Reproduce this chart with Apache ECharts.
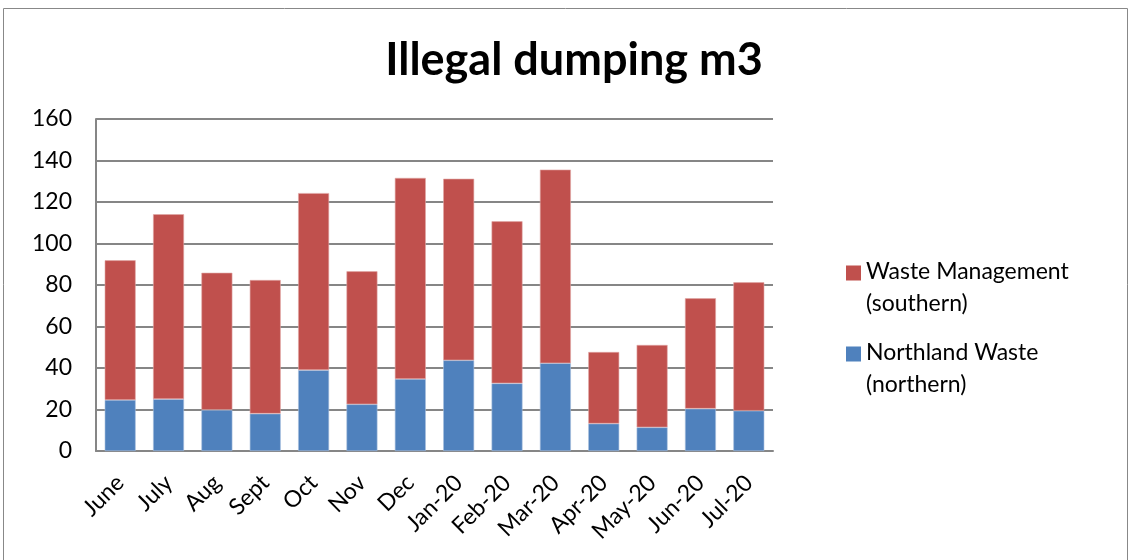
<!DOCTYPE html>
<html>
<head>
<meta charset="utf-8">
<script src="https://cdn.jsdelivr.net/npm/echarts@6/dist/echarts.min.js"></script>
<style>
  html, body { margin: 0; padding: 0; background: #fff; }
  #chart { width: 1129px; height: 560px; }
</style>
</head>
<body>
<div id="chart"></div>
<script>
var months = ['June', 'July', 'Aug', 'Sept', 'Oct', 'Nov', 'Dec', 'Jan-20', 'Feb-20', 'Mar-20', 'Apr-20', 'May-20', 'Jun-20', 'Jul-20'];
var northern = [24.6, 25, 19.8, 18, 39, 22.5, 34.7, 43.7, 32.6, 42.3, 13.2, 11.4, 20.4, 19.4];
var southern = [67.3, 89.1, 66.1, 64.4, 85.3, 64.1, 96.9, 87.5, 78.1, 93.3, 34.5, 39.7, 53.2, 61.9];
var seriesNames = ['Northland Waste\n(northern)', 'Waste Management\n(southern)'];
var colors = ['#4f81bd', '#c0504d'];

var font = 'Lato, "Open Sans", sans-serif';
var myChart = echarts.init(document.getElementById('chart'));

// square on top, invisible speck below, so the swatch sits beside the first text line
var legendIcon = 'path://M0,0h10v10h-10z M0,29.99h0.01v0.01h-0.01z';

var option = {
    animation: false,
    title: {
        text: 'Illegal dumping m3',
        left: 569,
        top: 33,
        textAlign: 'center',
        textStyle: {
            fontFamily: font,
            fontSize: 45,
            fontWeight: 'bold',
            color: '#000'
        }
    },
    graphic: [{
        type: 'rect',
        shape: { x: 3.5, y: 8.5, width: 1124, height: 600 },
        style: { fill: 'none', stroke: '#888', lineWidth: 1 },
        silent: true
    }],
    legend: {
        orient: 'vertical',
        left: 841,
        top: 251,
        itemWidth: 15,
        itemHeight: 45,
        itemGap: 17,
        icon: legendIcon,
        itemStyle: { borderWidth: 0 },
        data: [seriesNames[1], seriesNames[0]],
        textStyle: {
            fontFamily: font,
            fontSize: 23,
            lineHeight: 32,
            color: '#000'
        }
    },
    grid: {
        left: 96,
        right: 356,
        top: 119,
        bottom: 109
    },
    xAxis: {
        type: 'category',
        data: months,
        axisTick: { show: false },
        axisLine: { lineStyle: { color: '#868686', width: 2 } },
        axisLabel: {
            rotate: 45,
            interval: 0,
            margin: 28,
            fontFamily: font,
            fontSize: 23,
            color: '#000'
        }
    },
    yAxis: {
        type: 'value',
        min: 0,
        max: 160,
        interval: 20,
        axisLine: { show: true, lineStyle: { color: '#868686', width: 2 } },
        axisTick: { show: false },
        splitLine: { lineStyle: { color: '#868686', width: 2 } },
        axisLabel: {
            margin: 24,
            fontFamily: font,
            fontSize: 23,
            color: '#000'
        }
    },
    series: [{
        name: seriesNames[0],
        type: 'bar',
        stack: 'total',
        barWidth: '64%',
        itemStyle: { color: colors[0], borderColor: '#a7c0de', borderWidth: 0.6 },
        data: northern
    }, {
        name: seriesNames[1],
        type: 'bar',
        stack: 'total',
        itemStyle: { color: colors[1], borderColor: '#e0a8a6', borderWidth: 0.6 },
        data: southern
    }]
};
myChart.setOption(option);
</script>
</body>
</html>
